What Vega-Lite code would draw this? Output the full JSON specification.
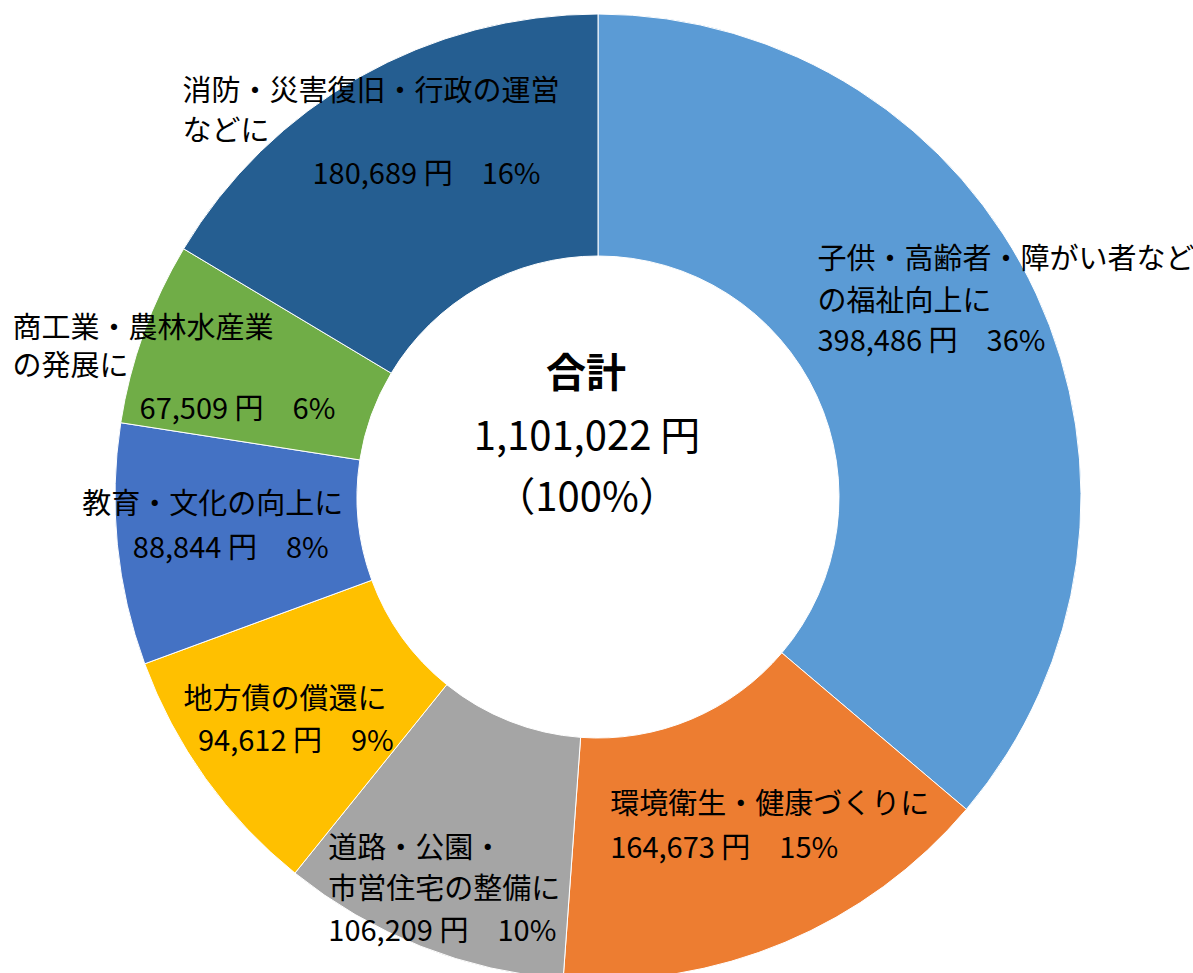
{
  "$schema": "https://vega.github.io/schema/vega-lite/v6.json",
  "width": 1190,
  "height": 952,
  "autosize": {"type": "none"},
  "padding": {"left": 3, "top": 21, "right": 0, "bottom": 0},
  "background": "#ffffff",
  "config": {"view": {"stroke": null}, "text": {"font": "Noto Sans CJK JP", "fill": "#000000"}},
  "datasets": {
    "spend": [
      {"idx": 1, "category": "子供・高齢者・障がい者などの福祉向上に", "name": "子供・高齢者・障がい者など\nの福祉向上に", "value": 398486, "amount": "398,486 円　36%"},
      {"idx": 2, "category": "環境衛生・健康づくりに", "name": "環境衛生・健康づくりに", "value": 164673, "amount": "164,673 円　15%"},
      {"idx": 3, "category": "道路・公園・市営住宅の整備に", "name": "道路・公園・\n市営住宅の整備に", "value": 106209, "amount": "106,209 円　10%"},
      {"idx": 4, "category": "地方債の償還に", "name": "地方債の償還に", "value": 94612, "amount": "94,612 円　9%"},
      {"idx": 5, "category": "教育・文化の向上に", "name": "教育・文化の向上に", "value": 88844, "amount": "88,844 円　8%"},
      {"idx": 6, "category": "商工業・農林水産業の発展に", "name": "商工業・農林水産業\nの発展に", "value": 67509, "amount": "67,509 円　6%"},
      {"idx": 7, "category": "消防・災害復旧・行政の運営などに", "name": "消防・災害復旧・行政の運営\nなどに", "value": 180689, "amount": "180,689 円　16%"}
    ],
    "total": [
      {"title": "合計", "amount": "1,101,022 円", "pct": "（100%）"}
    ]
  },
  "layer": [
    {
      "data": {"name": "spend"},
      "encoding": {
        "theta": {"field": "value", "type": "quantitative", "stack": true},
        "order": {"field": "idx", "type": "quantitative"}
      },
      "layer": [
        {
          "mark": {"type": "arc", "innerRadius": 241, "outerRadius": 483, "stroke": "#ffffff", "strokeWidth": 1},
          "encoding": {
            "color": {
              "field": "category", "type": "nominal", "legend": null,
              "scale": {
                "domain": ["子供・高齢者・障がい者などの福祉向上に", "環境衛生・健康づくりに", "道路・公園・市営住宅の整備に", "地方債の償還に", "教育・文化の向上に", "商工業・農林水産業の発展に", "消防・災害復旧・行政の運営などに"],
                "range": ["#5B9BD5", "#ED7D31", "#A5A5A5", "#FFC000", "#4472C4", "#70AD47", "#255E91"]
              }
            }
          }
        },
        {"mark": {"type": "text", "radius": 362, "fontSize": 29, "align": "left", "baseline": "top", "lineBreak": "\n", "lineHeight": 42, "dx": -109, "dy": -99},
         "encoding": {"text": {"condition": {"test": "datum.idx == 1", "field": "name", "type": "nominal"}, "value": ""}}},
        {"mark": {"type": "text", "radius": 362, "fontSize": 29, "align": "left", "baseline": "top", "dx": -109, "dy": -17},
         "encoding": {"text": {"condition": {"test": "datum.idx == 1", "field": "amount", "type": "nominal"}, "value": ""}}},
        {"mark": {"type": "text", "radius": 362, "fontSize": 29, "align": "left", "baseline": "top", "lineBreak": "\n", "lineHeight": 42, "dx": -128, "dy": -40},
         "encoding": {"text": {"condition": {"test": "datum.idx == 2", "field": "name", "type": "nominal"}, "value": ""}}},
        {"mark": {"type": "text", "radius": 362, "fontSize": 29, "align": "left", "baseline": "top", "dx": -128, "dy": 4},
         "encoding": {"text": {"condition": {"test": "datum.idx == 2", "field": "amount", "type": "nominal"}, "value": ""}}},
        {"mark": {"type": "text", "radius": 362, "fontSize": 29, "align": "left", "baseline": "top", "lineBreak": "\n", "lineHeight": 41, "dx": -137, "dy": 1},
         "encoding": {"text": {"condition": {"test": "datum.idx == 3", "field": "name", "type": "nominal"}, "value": ""}}},
        {"mark": {"type": "text", "radius": 362, "fontSize": 29, "align": "left", "baseline": "top", "dx": -137, "dy": 84},
         "encoding": {"text": {"condition": {"test": "datum.idx == 3", "field": "amount", "type": "nominal"}, "value": ""}}},
        {"mark": {"type": "text", "radius": 362, "fontSize": 29, "align": "center", "baseline": "top", "lineBreak": "\n", "dx": -19, "dy": -22},
         "encoding": {"text": {"condition": {"test": "datum.idx == 4", "field": "name", "type": "nominal"}, "value": ""}}},
        {"mark": {"type": "text", "radius": 362, "fontSize": 29, "align": "center", "baseline": "top", "dx": -8, "dy": 20},
         "encoding": {"text": {"condition": {"test": "datum.idx == 4", "field": "amount", "type": "nominal"}, "value": ""}}},
        {"mark": {"type": "text", "radius": 362, "fontSize": 29, "align": "center", "baseline": "top", "lineBreak": "\n", "dx": -25, "dy": -42},
         "encoding": {"text": {"condition": {"test": "datum.idx == 5", "field": "name", "type": "nominal"}, "value": ""}}},
        {"mark": {"type": "text", "radius": 362, "fontSize": 29, "align": "center", "baseline": "top", "dx": -7, "dy": 2},
         "encoding": {"text": {"condition": {"test": "datum.idx == 5", "field": "amount", "type": "nominal"}, "value": ""}}},
        {"mark": {"type": "text", "radius": 362, "fontSize": 29, "align": "left", "baseline": "top", "lineBreak": "\n", "lineHeight": 38, "dx": -245, "dy": -59},
         "encoding": {"text": {"condition": {"test": "datum.idx == 6", "field": "name", "type": "nominal"}, "value": ""}}},
        {"mark": {"type": "text", "radius": 362, "fontSize": 29, "align": "left", "baseline": "top", "dx": -118, "dy": 22},
         "encoding": {"text": {"condition": {"test": "datum.idx == 6", "field": "amount", "type": "nominal"}, "value": ""}}},
        {"mark": {"type": "text", "radius": 362, "fontSize": 29, "align": "left", "baseline": "top", "lineBreak": "\n", "lineHeight": 40, "dx": -237, "dy": -104},
         "encoding": {"text": {"condition": {"test": "datum.idx == 7", "field": "name", "type": "nominal"}, "value": ""}}},
        {"mark": {"type": "text", "radius": 362, "fontSize": 29, "align": "left", "baseline": "top", "dx": -107, "dy": -21},
         "encoding": {"text": {"condition": {"test": "datum.idx == 7", "field": "amount", "type": "nominal"}, "value": ""}}}
      ]
    },
    {
      "data": {"name": "total"},
      "layer": [
        {"mark": {"type": "text", "fontSize": 40, "fontWeight": "bold", "align": "center", "baseline": "middle", "dx": -12, "dy": -122},
         "encoding": {"text": {"field": "title", "type": "nominal"}}},
        {"mark": {"type": "text", "fontSize": 40, "align": "center", "baseline": "middle", "dx": -11, "dy": -59},
         "encoding": {"text": {"field": "amount", "type": "nominal"}}},
        {"mark": {"type": "text", "fontSize": 40, "align": "center", "baseline": "middle", "dx": -11, "dy": 2},
         "encoding": {"text": {"field": "pct", "type": "nominal"}}}
      ]
    }
  ]
}
